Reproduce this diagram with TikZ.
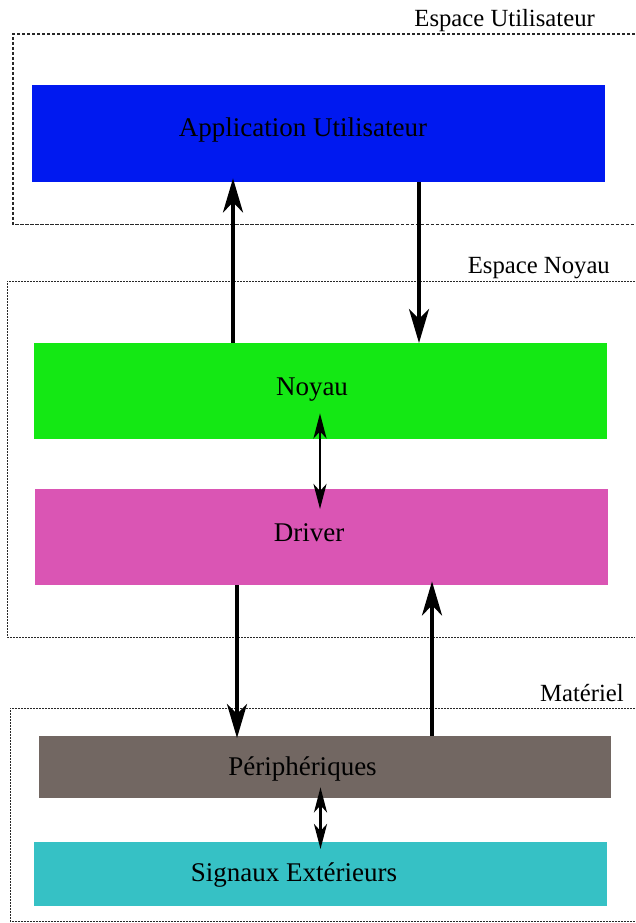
\documentclass[tikz,border=0pt]{standalone}
\usepackage{fontspec}
\setmainfont{Liberation Serif}
\usetikzlibrary{arrows.meta}
\definecolor{cblue}{RGB}{0,25,240}
\definecolor{cgreen}{RGB}{20,232,20}
\definecolor{cmag}{RGB}{218,85,180}
\definecolor{cbrown}{RGB}{114,103,98}
\definecolor{ccyan}{RGB}{54,193,197}
\definecolor{cdash}{RGB}{40,40,40}
\begin{document}
\begin{tikzpicture}[x=1pt,y=-1pt,
  layer/.style={fill=#1, draw=none, inner sep=0pt, anchor=north west},
  boxtext/.style={anchor=base, inner sep=0pt, font=\fontsize{27}{32}\selectfont},
  zonetext/.style={anchor=base east, inner sep=0pt, font=\fontsize{24.7}{30}\selectfont},
  zoneA/.style={draw=cdash, line width=1.1pt, dash pattern=on 3.3pt off 1.7pt},
  zoneB/.style={draw=cdash, line width=1pt, dash pattern=on 2pt off 1pt},
  bigarrow/.style={line width=3.7pt, -{Stealth[length=34pt, width=20pt, inset=10pt]}},
  smallarrow/.style={line width=2.8pt, {Stealth[length=25pt, width=13pt, inset=7pt]}-{Stealth[length=25pt, width=13pt, inset=7pt]}}
]
\useasboundingbox (0,0) rectangle (635,923);

% zones
\draw[zoneA] (635,34) -- (13,34) -- (13,224.5) -- (635,224.5);
\node[zonetext] (zU) at (595,27) {Espace Utilisateur};
\draw[zoneB] (635,281) -- (7,281) -- (7,637) -- (635,637);
\node[zonetext] (zN) at (610,273) {Espace Noyau};
\draw[zoneB] (635,708) -- (10,708) -- (10,921.5) -- (635,921.5);
\node[zonetext] (zM) at (624,701.5) {Matériel};

% boxes
\node[layer=cblue, minimum width=573pt, minimum height=97pt] (app) at (32,85) {};
\node[layer=cgreen, minimum width=573pt, minimum height=96pt] (noyau) at (34,343) {};
\node[layer=cmag, minimum width=573pt, minimum height=96pt] (driver) at (35,489) {};
\node[layer=cbrown, minimum width=572pt, minimum height=62pt] (periph) at (39,736) {};
\node[layer=ccyan, minimum width=573pt, minimum height=64pt] (sig) at (34,842) {};

% texts
\node[boxtext] (appT) at (303,136) {Application Utilisateur};
\node[boxtext] (noyauT) at (312,395) {Noyau};
\node[boxtext] (driverT) at (309,541.5) {Driver};
\node[boxtext] (periphT) at (302.5,775.5) {Périphériques};
\node[boxtext] (sigT) at (294,881) {Signaux Extérieurs};

% connector columns
\coordinate (c1) at (233,0);
\coordinate (c2) at (419,0);
\coordinate (c3) at (320,0);
\coordinate (c4) at (237,0);
\coordinate (c5) at (432,0);
\coordinate (c6) at (320.5,0);

\draw[bigarrow, shorten >=-4pt] (noyau.north -| c1) -- (app.south -| c1);
\draw[bigarrow] (app.south -| c2) -- (noyau.north -| c2);
\draw[smallarrow, shorten <=-26pt, shorten >=-20pt] (noyau.south -| c3) -- (driver.north -| c3);
\draw[bigarrow, shorten >=-2pt] (driver.south -| c4) -- (periph.north -| c4);
\draw[bigarrow, shorten >=-4pt] (periph.north -| c5) -- (driver.south -| c5);
\draw[smallarrow, shorten <=-11pt, shorten >=-7pt] (periph.south -| c6) -- (sig.north -| c6);
\end{tikzpicture}
\end{document}
